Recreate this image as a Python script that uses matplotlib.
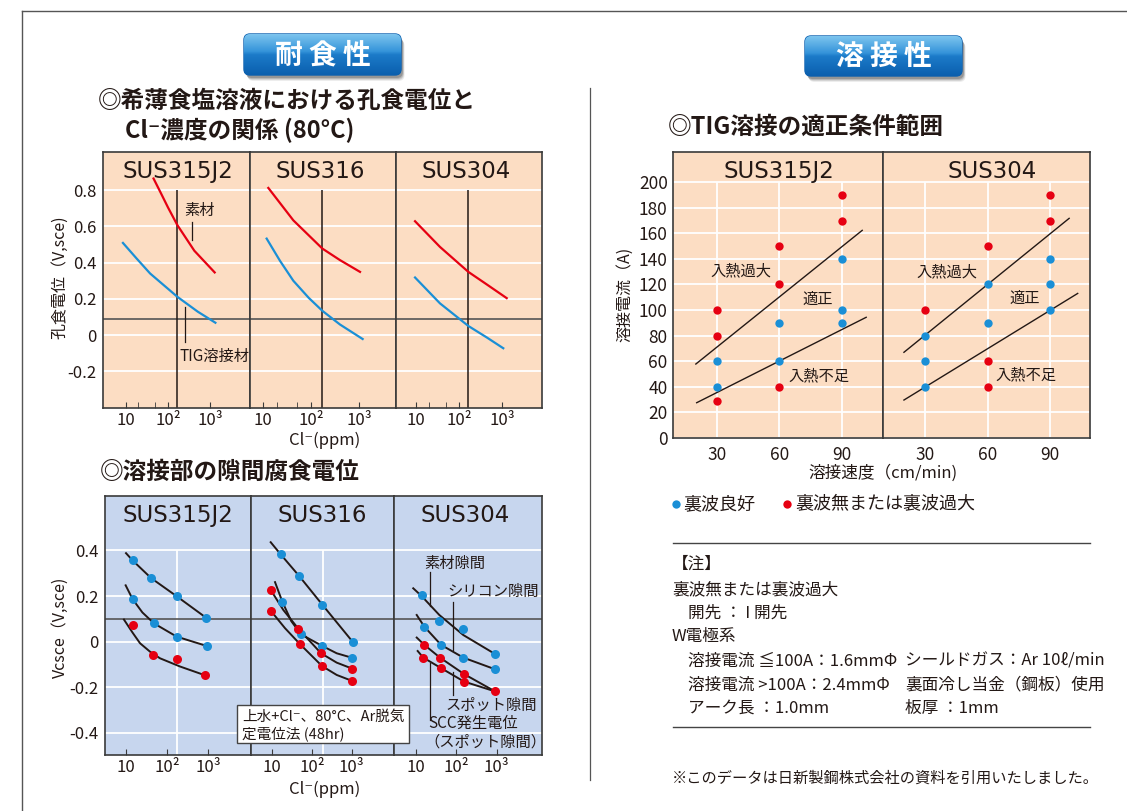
"""Corrosion / weldability sheet: pitting, crevice and TIG window charts."""
import matplotlib
matplotlib.use("Agg")
import matplotlib.pyplot as plt
import numpy as np
from matplotlib.colors import LinearSegmentedColormap
from matplotlib.patches import FancyBboxPatch, Rectangle
from matplotlib.ticker import FixedLocator, NullFormatter

plt.rcParams["font.family"] = ["Noto Sans CJK JP", "DejaVu Sans"]

W, H = 1127, 811
INK = "#231815"
FRAME = "#3a3a3a"
PEACH = "#FCDDC3"
SKY = "#C7D6EE"
RED = "#E60012"
BLUE = "#1A8FD6"

# ---- (1) pitting potential vs Cl- concentration, V vs SCE
PIT_STEELS = ["SUS315J2", "SUS316", "SUS304"]
PIT_BASE_PPM = [[45.5, 66, 100, 167, 419, 1270],
                [12.9, 42.8, 172, 402, 1050],
                [9.5, 36.1, 165, 440, 1285]]
PIT_BASE_V = [[0.865, 0.79, 0.705, 0.607, 0.466, 0.346],
              [0.813, 0.634, 0.478, 0.414, 0.349],
              [0.629, 0.487, 0.349, 0.280, 0.204]]
PIT_TIG_PPM = [[8.6, 18.1, 37.8, 167, 506, 1320],
               [11.9, 22.6, 42.8, 90, 172, 402, 1190],
               [9.5, 36.1, 165, 440, 1070]]
PIT_TIG_V = [[0.509, 0.423, 0.340, 0.211, 0.129, 0.068],
             [0.533, 0.41, 0.30, 0.205, 0.134, 0.058, -0.022],
             [0.318, 0.175, 0.050, -0.013, -0.073]]
PIT_MARK_PPM = [167, 172, 165]
PIT_REF_V = 0.09
PIT_YTICKS = [0.8, 0.6, 0.4, 0.2, 0, -0.2]
PIT_YLABELS = ["0.8", "0.6", "0.4", "0.2", "0", "-0.2"]

# ---- (2) crevice corrosion potential of welds
CRV_STEELS = ["SUS315J2", "SUS316", "SUS304"]
# each panel: list of (curve_ppm, curve_v, dot_ppm, dot_v, colour)
CRV_SERIES = [
    [([10, 14.5, 40.5, 170, 877], [0.388, 0.356, 0.279, 0.199, 0.105],
      [14.5, 40.5, 170, 877], [0.356, 0.279, 0.199, 0.105], BLUE),
     ([9.8, 14.5, 25, 47.9, 170, 912], [0.247, 0.186, 0.128, 0.080, 0.022, -0.019],
      [14.5, 47.9, 170, 912], [0.186, 0.080, 0.022, -0.019], BLUE),
     ([8.9, 14.5, 21.9, 38.3, 67, 205, 845],
      [0.097, 0.039, -0.007, -0.044, -0.073, -0.109, -0.148],
      [14.5, 46.1, 170, 845], [0.073, -0.057, -0.076, -0.147], RED)],
    [([9.1, 16.2, 47.9, 182, 1050], [0.436, 0.383, 0.287, 0.162, 0.0],
      [16.2, 47.9, 182, 1050], [0.383, 0.287, 0.162, 0.0], BLUE),
     ([11.7, 17.9, 30, 52.8, 182, 419, 1035],
      [0.261, 0.175, 0.09, 0.032, -0.019, -0.051, -0.071],
      [17.9, 52.8, 182, 1035], [0.175, 0.032, -0.019, -0.071], BLUE),
     ([9.1, 18.9, 45.2, 169, 419, 1020], [0.227, 0.139, 0.057, -0.051, -0.092, -0.118],
      [9.1, 45.2, 169, 1020], [0.227, 0.057, -0.051, -0.118], RED),
     ([9.1, 20.9, 49.9, 179, 419, 1020], [0.136, 0.059, -0.011, -0.107, -0.146, -0.172],
      [9.1, 49.9, 179, 1020], [0.136, -0.011, -0.107, -0.172], RED)],
    [([8.7, 14.0, 38.3, 150, 908], [0.234, 0.200, 0.117, 0.029, -0.054],
      [14.0, 38.3, 150, 908], [0.205, 0.091, 0.056, -0.054], BLUE),
     ([10.6, 16.3, 42.2, 150, 908], [0.117, 0.066, -0.014, -0.070, -0.121],
      [16.3, 42.2, 150, 908], [0.066, -0.014, -0.070, -0.121], BLUE),
     ([10.6, 16.3, 39.8, 156, 908], [0.018, -0.014, -0.070, -0.142, -0.218],
      [16.3, 39.8, 156, 908], [-0.014, -0.070, -0.142, -0.218], RED),
     ([11.2, 15.4, 41.4, 156, 908], [-0.041, -0.070, -0.115, -0.175, -0.218],
      [15.4, 41.4, 156], [-0.070, -0.115, -0.175], RED)],
]
CRV_GRID_PPM = [176, 186, None]
CRV_REF_V = 0.1
CRV_YTICKS = [0.4, 0.2, 0, -0.2, -0.4]
CRV_YLABELS = ["0.4", "0.2", "0", "-0.2", "-0.4"]

# ---- (3) TIG welding window: speed (cm/min) vs current (A)
TIG_STEELS = ["SUS315J2", "SUS304"]
TIG_GOOD_SPEED = [[30, 30, 60, 60, 90, 90, 90], [30, 30, 30, 60, 60, 90, 90, 90]]
TIG_GOOD_AMP = [[60, 40, 90, 60, 140, 100, 90], [80, 60, 40, 120, 90, 140, 120, 100]]
TIG_BAD_SPEED = [[30, 30, 30, 60, 60, 60, 90, 90], [30, 60, 60, 60, 90, 90]]
TIG_BAD_AMP = [[100, 80, 29, 150, 120, 40, 190, 170], [100, 150, 60, 40, 190, 170]]
TIG_UPPER = [([20, 99.7], [57.7, 162.4]), ([19.8, 99], [66.9, 171.8])]
TIG_LOWER = [([20.4, 101.6], [27.4, 94.3]), ([19.8, 103.1], [29.5, 113])]
TIG_REGION_TXT = ["入熱過大", "適正", "入熱不足"]
TIG_REGION_POS = [[(41.6, 130.5), (78.6, 108), (79, 48.5)],
                  [(40.3, 130), (77.5, 109), (78.5, 49)]]

fig = plt.figure(figsize=(W / 100, H / 100), dpi=100)


def px_axes(x0, y0, x1, y1, **kw):
    return fig.add_axes([x0 / W, 1 - y1 / H, (x1 - x0) / W, (y1 - y0) / H], **kw)


def pixel_layer(z):
    a = fig.add_axes([0, 0, 1, 1], zorder=z)
    a.set_xlim(0, W); a.set_ylim(H, 0)
    a.axis("off"); a.patch.set_visible(False)
    return a


ov = pixel_layer(-1)

# outer frame + column separator
ov.plot([22, W], [11, 11], color="#555555", lw=1.0)
ov.plot([22, 22], [11, H], color="#555555", lw=1.0)
ov.plot([590, 590], [88, 780], color="#555555", lw=0.9)

BADGE_CMAP = LinearSegmentedColormap.from_list(
    "badge", [(0, "#7CC4EE"), (0.42, "#3594DA"), (0.5, "#1C7BC9"), (1, "#0B5FAE")])
GRAD = np.linspace(0, 1, 64).reshape(-1, 1)


def badge(x0, y0, x1, y1, label):
    for k, a in [(6, 0.07), (5, 0.10), (4, 0.14), (3, 0.18)]:
        ov.add_patch(FancyBboxPatch((x0 + k * 0.6, y0 + k), x1 - x0, y1 - y0,
                                    boxstyle="round,pad=0,rounding_size=6",
                                    fc="black", ec="none", alpha=a))
    p = FancyBboxPatch((x0, y0), x1 - x0, y1 - y0,
                       boxstyle="round,pad=0,rounding_size=6",
                       fc="#1C7BC9", ec="#0B5FAE", lw=1.0)
    ov.add_patch(p)
    im = ov.imshow(GRAD, extent=(x0, x1, y1, y0), cmap=BADGE_CMAP,
                   aspect="auto", zorder=3)
    im.set_clip_path(p)
    ov.text((x0 + x1) / 2, (y0 + y1) / 2 + 1, label, color="white",
            fontsize=20, fontweight="bold", ha="center", va="center", zorder=4)


badge(244, 34, 401, 75, "耐 食 性")
badge(805, 36, 962, 76, "溶 接 性")
ov.set_xlim(0, W); ov.set_ylim(H, 0)

ov.text(98, 101, "◎希薄食塩溶液における孔食電位と", fontsize=17, fontweight="bold",
        color=INK, va="center")
ov.text(125, 130, "Cl⁻濃度の関係 (80°C)", fontsize=17, fontweight="bold",
        color=INK, va="center")
ov.text(100, 472, "◎溶接部の隙間腐食電位", fontsize=17, fontweight="bold",
        color=INK, va="center")
ov.text(668, 127, "◎TIG溶接の適正条件範囲", fontsize=17, fontweight="bold",
        color=INK, va="center")


def style_log(ax, xlim, ylim, yticks, ylabels, show_y, bg, minor):
    ax.set_facecolor(bg)
    ax.set_xscale("log")
    ax.set_xlim(*xlim); ax.set_ylim(*ylim)
    ax.set_yticks(yticks)
    ax.set_yticklabels(ylabels if show_y else [])
    ax.yaxis.grid(True, color="white", lw=1.3)
    ax.set_axisbelow(True)
    ax.tick_params(axis="y", length=0, labelsize=12, pad=5, labelcolor=INK)
    ax.xaxis.set_major_locator(FixedLocator([10, 100, 1000]))
    ax.set_xticklabels(["10", "10²", "10³"])
    ax.xaxis.set_minor_locator(FixedLocator(minor))
    ax.xaxis.set_minor_formatter(NullFormatter())
    ax.tick_params(axis="x", which="both", direction="in", length=4,
                   color=FRAME, labelsize=12, pad=3, labelcolor=INK)
    for s in ax.spines.values():
        s.set_color(FRAME); s.set_linewidth(1.2)


def panel_title(ax, fx, fy, name):
    ax.text(fx, fy, name, transform=ax.transAxes, ha="center", va="center",
            fontsize=16.5, family="DejaVu Sans", color=INK)


# ---------------- chart 1: pitting potential
PIT_BOUNDS = [(103.3, 250.3), (250.3, 396.3), (396.3, 541.7)]
PIT_XLIM = [(10 ** 0.47, 10 ** 3.946), (10 ** 0.735, 10 ** 3.777), (10 ** 0.542, 10 ** 3.923)]
PIT_YLIM = (-0.405, 1.01)
PIT_TITLE_FX = [0.51, 0.477, 0.479]
pit_axes = []
for i, name in enumerate(PIT_STEELS):
    x0, x1 = PIT_BOUNDS[i]
    ax = px_axes(x0, 152.3, x1, 408.3)
    style_log(ax, PIT_XLIM[i], PIT_YLIM, PIT_YTICKS, PIT_YLABELS, i == 0, PEACH, [20, 50])
    ax.axhline(PIT_REF_V, color="#555555", lw=1.2, zorder=2)
    ax.vlines(PIT_MARK_PPM[i], PIT_YLIM[0], 0.8, color=INK, lw=1.1, zorder=2)
    ax.plot(PIT_BASE_PPM[i], PIT_BASE_V[i], color=RED, lw=1.6, zorder=3)
    ax.plot(PIT_TIG_PPM[i], PIT_TIG_V[i], color=BLUE, lw=1.6, zorder=3)
    panel_title(ax, PIT_TITLE_FX[i], 0.924, name)
    pit_axes.append(ax)

a0 = pit_axes[0]
a0.text(543, 0.69, "素材", fontsize=11, color=INK, ha="center", va="center")
a0.plot([362, 362], [0.625, 0.524], color=INK, lw=0.9)
a0.text(1270, -0.12, "TIG溶接材", fontsize=11, color=INK, ha="center", va="center")
a0.plot([250, 250], [0.156, -0.037], color=INK, lw=0.9)

ov.text(60, 277, "孔食電位（V,sce)", rotation=90, fontsize=11.5, color=INK,
        ha="center", va="center")
ov.text(325, 440, "Cl⁻(ppm)", fontsize=12, color=INK, ha="center", va="center")

# ---------------- chart 2: crevice potential
CRV_BOUNDS = [(105, 251), (251, 394.3), (394.3, 541.7)]
CRV_XLIM = [(10 ** 0.49, 10 ** 4.034), (10 ** 0.463, 10 ** 4.073), (10 ** 0.472, 10 ** 4.111)]
CRV_YLIM = (-0.497, 0.64)
CRV_TITLE_FX = [0.502, 0.5, 0.48]
crv_axes = []
for i, name in enumerate(CRV_STEELS):
    x0, x1 = CRV_BOUNDS[i]
    ax = px_axes(x0, 495.7, x1, 755)
    style_log(ax, CRV_XLIM[i], CRV_YLIM, CRV_YTICKS, CRV_YLABELS, i == 0, SKY, [])
    if CRV_GRID_PPM[i]:
        ax.vlines(CRV_GRID_PPM[i], CRV_YLIM[0], 0.4, color="white", lw=1.3, zorder=1)
    ax.axhline(CRV_REF_V, color="#555555", lw=1.2, zorder=2)
    for cx, cy, dx, dy, col in CRV_SERIES[i]:
        ax.plot(cx, cy, color=INK, lw=1.4, zorder=3)
        ax.plot(dx, dy, "o", color=col, ms=6.5, mec="none", zorder=4)
    panel_title(ax, CRV_TITLE_FX[i], 0.922, name)
    crv_axes.append(ax)

a3 = crv_axes[2]
a3.text(93, 0.344, "素材隙間", fontsize=11, color=INK, ha="center", va="center")
a3.plot([22.5, 22.5], [0.306, 0.157], color=INK, lw=0.9)
a3.text(824, 0.219, "シリコン隙間", fontsize=11, color=INK, ha="center", va="center")
a3.plot([85, 85], [0.172, -0.036], color=INK, lw=0.9)
a3.text(753, -0.278, "スポット隙間", fontsize=11, color=INK, ha="center", va="center")
a3.plot([85, 85], [-0.132, -0.234], color=INK, lw=0.9)
a3.text(264, -0.358, "SCC発生電位", fontsize=11, color=INK, ha="center", va="center")
a3.text(514, -0.439, "（スポット隙間）", fontsize=11, color=INK, ha="center", va="center")
a3.plot([22.5, 22.5], [-0.093, -0.343], color=INK, lw=0.9)

ov.text(60, 627, "Vcsce（V,sce)", rotation=90, fontsize=11.5, color=INK,
        ha="center", va="center")
ov.text(325, 789, "Cl⁻(ppm)", fontsize=12, color=INK, ha="center", va="center")

top = pixel_layer(10)
top.add_patch(Rectangle((236.7, 705), 172.3, 38.3, fc="white", ec="#444444", lw=1.0))
top.text(242, 716.5, "上水+Cl⁻、80°C、Ar脱気", fontsize=10.5, color=INK, va="center")
top.text(242, 733.5, "定電位法 (48hr)", fontsize=10.5, color=INK, va="center")

# ---------------- chart 3: TIG welding window
TIG_BOUNDS = [(673.3, 883.3), (883.3, 1090)]
TIG_XLIM = [(9.2, 109.8), (9.9, 109.0)]
TIG_YLIM = (0, 224)
TIG_TITLE_FX = [0.503, 0.525]
for i, name in enumerate(TIG_STEELS):
    x0, x1 = TIG_BOUNDS[i]
    ax = px_axes(x0, 151.7, x1, 437.7)
    ax.set_facecolor(PEACH)
    ax.set_xlim(*TIG_XLIM[i]); ax.set_ylim(*TIG_YLIM)
    ax.set_yticks(range(0, 201, 20))
    if i == 0:
        ax.set_yticklabels([str(v) for v in range(0, 201, 20)])
    else:
        ax.set_yticklabels([])
    ax.set_xticks([30, 60, 90])
    ax.yaxis.grid(True, color="white", lw=1.3)
    ax.vlines([30, 60, 90], 0, 200, color="white", lw=1.3, zorder=1)
    ax.set_axisbelow(True)
    ax.tick_params(length=0, labelsize=12.5, labelcolor=INK)
    ax.tick_params(axis="x", pad=6)
    ax.tick_params(axis="y", pad=4)
    for s in ax.spines.values():
        s.set_color(FRAME); s.set_linewidth(1.2)
    ax.plot(*TIG_UPPER[i], color=INK, lw=1.0, zorder=2)
    ax.plot(*TIG_LOWER[i], color=INK, lw=1.0, zorder=2)
    ax.plot(TIG_GOOD_SPEED[i], TIG_GOOD_AMP[i], "o", color=BLUE, ms=6, mec="none", zorder=3)
    ax.plot(TIG_BAD_SPEED[i], TIG_BAD_AMP[i], "o", color=RED, ms=6, mec="none", zorder=3)
    for txt, (tx, ty) in zip(TIG_REGION_TXT, TIG_REGION_POS[i]):
        ax.text(tx, ty, txt, fontsize=11, color=INK, ha="center", va="center")
    panel_title(ax, TIG_TITLE_FX[i], 0.93, name)

ov.text(625, 294, "溶接電流（A)", rotation=90, fontsize=11.5, color=INK,
        ha="center", va="center")
ov.text(883, 473, "溶接速度（cm/min)", fontsize=12, color=INK, ha="center", va="center")

# legend
ov.plot([676], [504], "o", color=BLUE, ms=6, mec="none")
ov.text(683, 504, "裏波良好", fontsize=13, color=INK, va="center")
ov.plot([787], [504], "o", color=RED, ms=6, mec="none")
ov.text(795, 504, "裏波無または裏波過大", fontsize=13, color=INK, va="center")

# notes
ov.plot([673, 1090], [543, 543], color="#444444", lw=1.0)
ov.plot([673, 1090], [727, 727], color="#444444", lw=1.0)
NOTE_LINES = [
    (672, 564, "【注】"),
    (672, 590, "裏波無または裏波過大"),
    (688, 613, "開先 ： I 開先"),
    (672, 637, "W電極系"),
    (688, 661, "溶接電流 ≦100A：1.6mmΦ"),
    (905, 661, "シールドガス：Ar 10ℓ/min"),
    (688, 685, "溶接電流 >100A：2.4mmΦ"),
    (905, 685, "裏面冷し当金（鋼板）使用"),
    (688, 708, "アーク長 ：1.0mm"),
    (905, 708, "板厚 ：1mm"),
]
for nx, ny, txt in NOTE_LINES:
    ov.text(nx, ny, txt, fontsize=12, color=INK, va="center")
ov.text(672, 778, "※このデータは日新製鋼株式会社の資料を引用いたしました。",
        fontsize=11, color=INK, va="center")

fig.savefig("out.png", dpi=100, facecolor="white")
